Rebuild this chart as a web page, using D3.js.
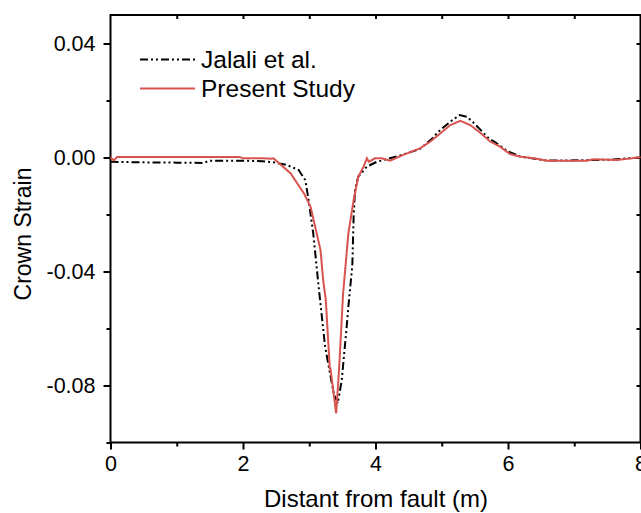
<!DOCTYPE html>
<html><head><meta charset="utf-8">
<script src="https://cdn.jsdelivr.net/npm/d3@7"></script>
<style>body{margin:0;background:#fff}svg{display:block}text{font-family:"Liberation Sans",Arial,sans-serif;fill:#000}</style>
</head><body><svg id="c" width="641" height="513"></svg>
<script>
const seriesNames = ["Jalali et al.", "Present Study"];
const xTicks = [0, 2, 4, 6, 8];
const yTicks = [0.04, 0.00, -0.04, -0.08];
const jalaliX = [0,0.5,1.0,1.4,1.5,2.0,2.3,2.46,2.66,2.84,2.94,2.99,3.06,3.11,3.14,3.24,3.37,3.43,3.49,3.56,3.6,3.65,3.67,3.69,3.74,3.87,4.02,4.12,4.4,4.67,4.83,4.98,5.13,5.27,5.38,5.48,5.61,5.71,5.83,6.0,6.19,6.59,7.0,7.5,8.0];
const jalaliY = [-0.0015,-0.0017,-0.0018,-0.0019,-0.0011,-0.0011,-0.0013,-0.0017,-0.0026,-0.0044,-0.0079,-0.0149,-0.0266,-0.038,-0.045,-0.0665,-0.0828,-0.0863,-0.0782,-0.0606,-0.05,-0.038,-0.0208,-0.0114,-0.0067,-0.0032,-0.0015,-0.0009,0.0009,0.003,0.0061,0.0097,0.0126,0.0149,0.0143,0.0122,0.0091,0.0067,0.005,0.0021,0.0003,-0.0011,-0.001,-0.0008,0.0];
const presentX = [0,0.05,0.1,1.0,1.95,2.0,2.3,2.42,2.46,2.72,2.92,3.02,3.17,3.21,3.25,3.31,3.32,3.406,3.44,3.46,3.51,3.59,3.67,3.74,3.82,3.87,3.90,3.99,4.09,4.22,4.42,4.67,4.83,4.98,5.13,5.28,5.43,5.59,5.73,5.88,6.03,6.19,6.39,6.59,6.84,7.19,7.29,7.65,7.80,8.0];
const presentY = [0.0,-0.001,0.0002,0.0002,0.0002,-0.0003,-0.0003,-0.0004,-0.0003,-0.0056,-0.0126,-0.0173,-0.0325,-0.043,-0.05,-0.074,-0.074,-0.0898,-0.078,-0.07,-0.048,-0.0267,-0.015,-0.0068,-0.0032,-0.0003,-0.0015,-0.0003,-0.0003,-0.0011,0.0009,0.0032,0.0056,0.0085,0.0114,0.0129,0.0114,0.0085,0.0056,0.0038,0.0012,0.0003,-0.0003,-0.0011,-0.0011,-0.0011,-0.0006,-0.0009,-0.0004,0.0001];

const svg = d3.select("#c");
const L = 110.5, R = 640.5, T = 15, B = 442.5;
const x = d3.scaleLinear().domain([0, 8]).range([L, R]);
const y = d3.scaleLinear().domain([-0.10, 0.05]).range([B, T]);

svg.append("rect").attr("x", L).attr("y", T).attr("width", R - L).attr("height", B - T)
  .attr("fill", "none").attr("stroke", "#000").attr("stroke-width", 2);

const fmtY = d => d === 0 ? "0.00" : d3.format(".2f")(d).replace("−", "-");
const xa = svg.append("g").attr("transform", `translate(0,${B})`)
  .call(d3.axisBottom(x).tickValues(xTicks).tickSize(7).tickPadding(6).tickFormat(d3.format("d")));
xa.append("g").call(d3.axisBottom(x).tickValues([1,3,5,7]).tickSize(4).tickFormat(""));
const ya = svg.append("g").attr("transform", `translate(${L},0)`)
  .call(d3.axisLeft(y).tickValues(yTicks).tickSize(7).tickPadding(8).tickFormat(fmtY));
ya.append("g").call(d3.axisLeft(y).tickValues([0.02,-0.02,-0.06,-0.10]).tickSize(4).tickFormat(""));
svg.append("g").attr("transform", `translate(0,${T})`)
  .call(d3.axisBottom(x).tickValues([1,2,3,4,5,6,7]).tickSize(4).tickFormat(""));
svg.append("g").attr("transform", `translate(${R},0)`)
  .call(d3.axisRight(y).tickValues([0.04,0.02,0,-0.02,-0.04,-0.06,-0.08]).tickSize(-4).tickFormat(""));
svg.selectAll(".domain").remove();
svg.selectAll(".tick line").attr("stroke", "#000").attr("stroke-width", 2);
svg.selectAll(".tick text").style("font-size", "21.5px").attr("fill", "#000");

const line = d3.line().x(d => x(d[0])).y(d => y(d[1]));
const jal = jalaliX.map((v, i) => [v, jalaliY[i]]);
const pre = presentX.map((v, i) => [v, presentY[i]]);
const red = "#d9534f";
const dash = "8,3,2,3,2,3";
const plot = svg.append("g");
plot.append("path").datum(jal).attr("d", line).attr("fill", "none").attr("stroke", "#000")
  .attr("stroke-width", 2).attr("stroke-dasharray", dash);
plot.append("path").datum(pre).attr("d", line).attr("fill", "none").attr("stroke", red)
  .attr("stroke-width", 2);

const leg = svg.append("g");
leg.append("line").attr("x1", 140).attr("x2", 195).attr("y1", 59.5).attr("y2", 59.5)
  .attr("stroke", "#000").attr("stroke-width", 2).attr("stroke-dasharray", dash);
leg.append("line").attr("x1", 140).attr("x2", 195).attr("y1", 88.5).attr("y2", 88.5)
  .attr("stroke", red).attr("stroke-width", 2);
leg.append("text").attr("x", 201).attr("y", 68).style("font-size", "24.5px").text(seriesNames[0]);
leg.append("text").attr("x", 201).attr("y", 97).style("font-size", "24.5px").text(seriesNames[1]);

svg.append("text").attr("x", 376).attr("y", 507).attr("text-anchor", "middle")
  .style("font-size", "24px").text("Distant from fault (m)");
svg.append("text").attr("transform", "translate(31,234) rotate(-90)").attr("text-anchor", "middle")
  .style("font-size", "23px").text("Crown Strain");
</script></body></html>
